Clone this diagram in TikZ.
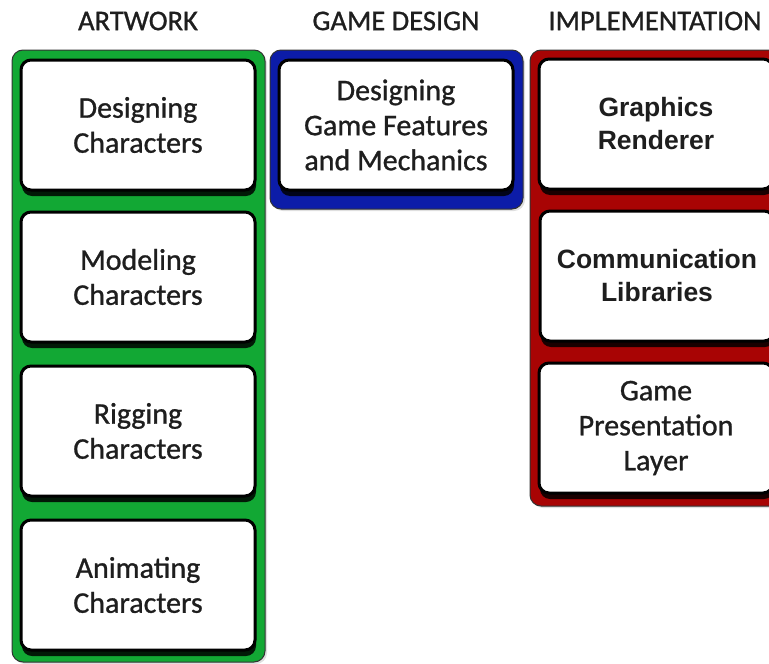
\documentclass[tikz,border=0pt]{standalone}
\usepackage{fontspec}
\setmainfont{Carlito}
\newfontfamily\semib[BoldFont=Carlito, BoldFeatures={FakeBold=0.9}]{Carlito}
\newfontfamily\arialfont{Liberation Sans}
\usetikzlibrary{shadows,positioning}
\definecolor{cgreen}{RGB}{18,168,52}
\definecolor{cblue}{RGB}{12,28,168}
\definecolor{cred}{RGB}{168,4,4}
\definecolor{ctext}{RGB}{30,30,30}
\begin{document}
\begin{tikzpicture}[x=1pt,y=1pt,
  container/.style={draw=black!80, line width=1pt, rounded corners=11pt,
    drop shadow={shadow xshift=2pt, shadow yshift=-2pt, opacity=0.25}},
  boxbase/.style={draw=black, line width=3pt, fill=white, rounded corners=10pt,
    minimum width=234pt, minimum height=130pt, align=center, text=ctext,
    drop shadow={shadow xshift=1pt, shadow yshift=-6pt, opacity=0.85, fill=black}},
  stepbox/.style={boxbase, font=\semib\bfseries\fontsize{30}{35}\selectfont},
  implbox/.style={boxbase, font=\arialfont\bfseries\fontsize{26.5}{33}\selectfont},
  title/.style={font=\semib\bfseries\fontsize{28.5}{30}\selectfont, text=ctext}
]
\useasboundingbox (0,0) rectangle (769,-664);
\clip (0,0) rectangle (769,-664);
% titles
\node[title] (t1) at (138,-21) {ARTWORK};
\node[title] (t2) at (396,-21) {GAME DESIGN};
\node[title] (t3) at (655,-21) {IMPLEMENTATION};
% containers
\path[container, fill=cgreen] (12,-50) rectangle (265,-662);
\path[container, fill=cblue] (270,-50) rectangle (523,-209);
\path[container, fill=cred] (530,-50) rectangle (790,-506);
% artwork
\node[stepbox] (a1) at (138,-125) {Designing\\Characters};
\node[stepbox] (a2) at (138,-277) {Modeling\\Characters};
\node[stepbox] (a3) at (138,-431) {Rigging\\Characters};
\node[stepbox] (a4) at (138,-585) {Animating\\Characters};
% game design
\node[stepbox] (g1) at (396,-125) {Designing\\Game Features\\and Mechanics};
% implementation
\node[implbox] (i1) at (656,-124) {Graphics\\Renderer};
\node[implbox] (i2) at (657,-276) {Communication\\Libraries};
\node[stepbox] (i3) at (656,-428) {Game\\Presentation\\Layer};
\end{tikzpicture}
\end{document}
